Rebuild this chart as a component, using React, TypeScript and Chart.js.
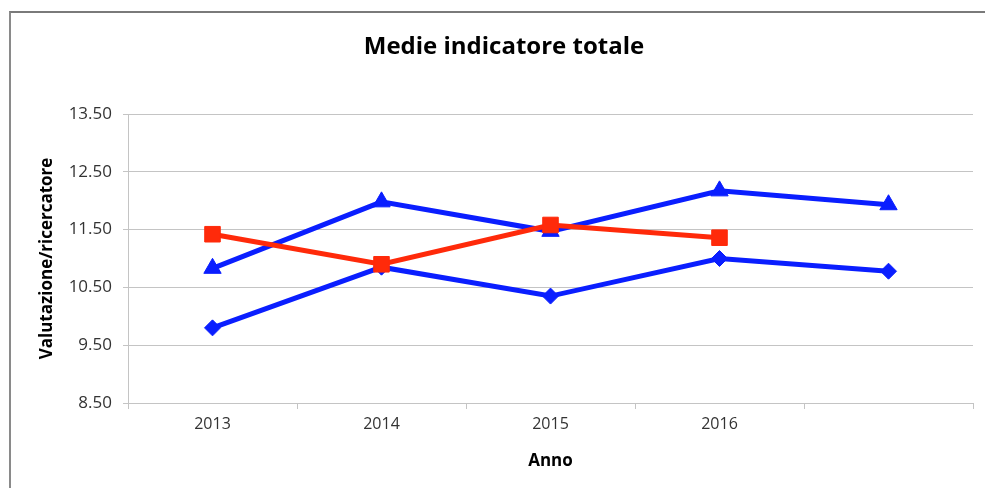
import React, { useEffect, useRef } from "react";
import { Chart, registerables } from "chart.js";

Chart.register(...registerables);

const titleText = "Medie indicatore totale";
const xTitle = "Anno";
const yTitle = "Valutazione/ricercatore";
const categories = ["2013", "2014", "2015", "2016", ""];
const serieTriangolo = [10.83, 11.98, 11.47, 12.17, 11.93];
const serieRombo = [9.8, 10.85, 10.35, 11.0, 10.78];
const serieQuadrato: (number | null)[] = [11.42, 10.9, 11.58, 11.36, null];
const yTicks = [8.5, 9.5, 10.5, 11.5, 12.5, 13.5];

const BLUE = "#0a1eff";
const RED = "#ff2a0a";
const GRID = "#c4c4c4";
const FONT = "'Open Sans', sans-serif";

const titlePlugin = {
  id: "centeredTitle",
  afterDraw(chart: any) {
    const ctx = chart.ctx;
    ctx.save();
    ctx.font = `bold 24px ${FONT}`;
    ctx.fillStyle = "#000";
    ctx.textAlign = "center";
    ctx.textBaseline = "middle";
    ctx.fillText(titleText, 504, 47);
    ctx.restore();
  },
};

export default function App() {
  const ref = useRef<HTMLCanvasElement | null>(null);

  useEffect(() => {
    if (!ref.current) return;
    const chart = new Chart(ref.current, {
      type: "line",
      data: {
        labels: categories,
        datasets: [
          {
            data: serieTriangolo,
            borderColor: BLUE,
            backgroundColor: BLUE,
            borderWidth: 5,
            pointStyle: "triangle",
            pointRadius: 10,
            pointBorderWidth: 1,
            tension: 0,
            order: 2,
          },
          {
            data: serieRombo,
            borderColor: BLUE,
            backgroundColor: BLUE,
            borderWidth: 5,
            pointStyle: "rectRot",
            pointRadius: 8,
            pointBorderWidth: 1,
            tension: 0,
            order: 2,
          },
          {
            data: serieQuadrato,
            borderColor: RED,
            backgroundColor: RED,
            borderWidth: 5,
            pointStyle: "rect",
            pointRadius: 11,
            pointBorderWidth: 1,
            tension: 0,
            spanGaps: false,
            order: 1,
          },
        ],
      },
      plugins: [titlePlugin],
      options: {
        responsive: false,
        animation: false,
        devicePixelRatio: 1,
        layout: { padding: { left: 0, right: 8, top: 114, bottom: 0 } },
        font: { family: FONT },
        plugins: {
          legend: { display: false },
          tooltip: { enabled: false },
          title: { display: false },
        },
        scales: {
          x: {
            type: "category",
            offset: true,
            grid: {
              display: true,
              offset: true,
              drawOnChartArea: false,
              drawTicks: true,
              tickLength: 6,
              color: GRID,
            },
            border: { display: true, color: GRID, width: 1 },
            ticks: {
              color: "#333",
              font: { family: FONT, size: 16 },
              padding: 6,
              maxRotation: 0,
              autoSkip: false,
            },
            title: {
              display: true,
              text: xTitle,
              color: "#000",
              font: { family: FONT, size: 17, weight: "bold" },
              padding: { top: 0, bottom: 17 },
            },
            afterFit: (s: any) => {
              s.height = 85;
            },
          },
          y: {
            type: "linear",
            min: 8.5,
            max: 13.5,
            grid: {
              display: true,
              drawOnChartArea: true,
              drawTicks: true,
              tickLength: 5,
              color: GRID,
            },
            border: { display: true, color: GRID, width: 1 },
            afterBuildTicks: (s: any) => {
              s.ticks = yTicks.map((v) => ({ value: v }));
            },
            ticks: {
              color: "#333",
              font: { family: FONT, size: 17 },
              padding: 11,
              callback: (v: any) => Number(v).toFixed(2),
            },
            title: {
              display: true,
              text: yTitle,
              color: "#000",
              font: { family: FONT, size: 17, weight: "bold" },
              padding: { top: 37, bottom: 0 },
            },
            afterFit: (s: any) => {
              s.width = 128;
            },
          },
        },
      },
    });
    return () => chart.destroy();
  }, []);

  return (
    <div
      style={{
        position: "absolute",
        left: 0,
        top: 0,
        width: 985,
        height: 488,
        background: "#fff",
      }}
    >
      <canvas ref={ref} width={985} height={488} style={{ display: "block" }} />
      <div
        style={{
          position: "absolute",
          left: 9,
          top: 11,
          width: 976,
          height: 477,
          borderTop: "2px solid #7a7a7a",
          borderLeft: "2px solid #8a8a8a",
          boxSizing: "border-box",
          pointerEvents: "none",
        }}
      />
    </div>
  );
}
